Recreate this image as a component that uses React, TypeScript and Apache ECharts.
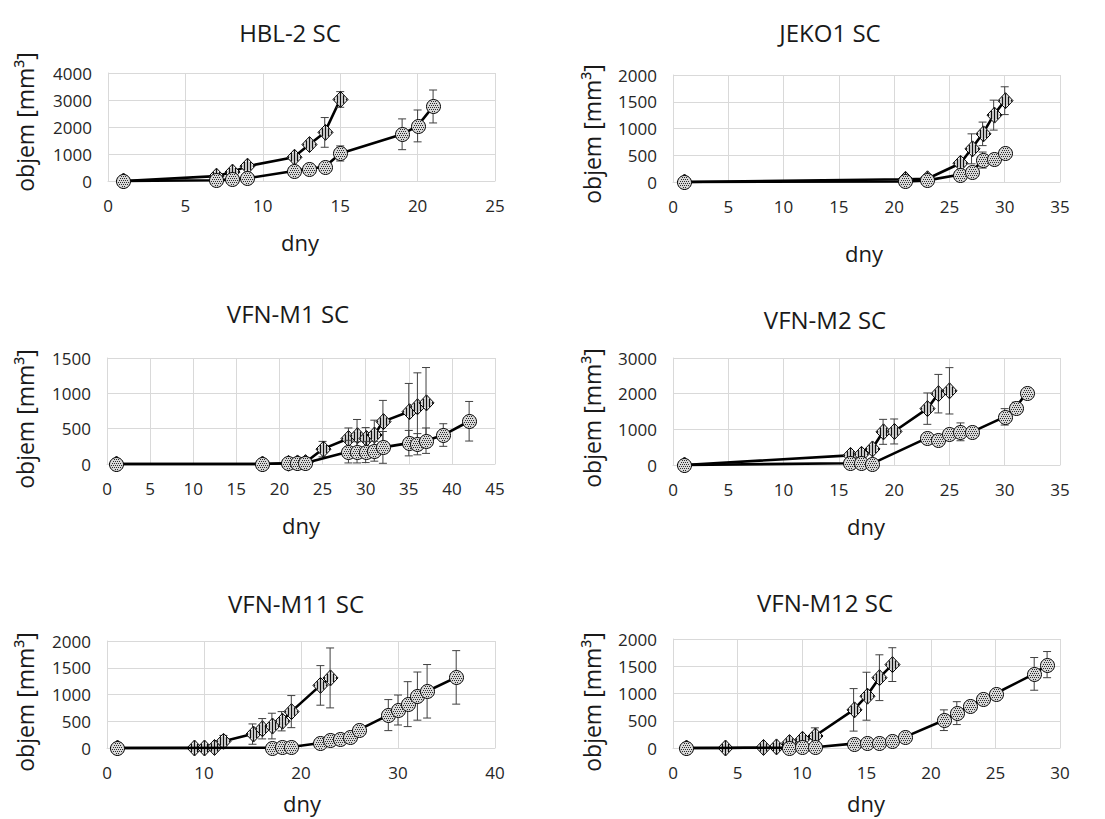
import React, { useEffect, useRef } from 'react';
import * as echarts from 'echarts';

// ---------- DATA ----------
// HBL-2 SC
const hbl2DiamondDays = [1, 7, 8, 9, 12, 13, 14, 15];
const hbl2DiamondVol = [0, 180, 330, 550, 880, 1350, 1800, 3020];
const hbl2DiamondErr = [0, 40, 60, 80, 100, 150, 550, 290];
const hbl2CircleDays = [1, 7, 8, 9, 12, 13, 14, 15, 19, 20, 21];
const hbl2CircleVol = [0, 30, 60, 100, 370, 460, 520, 1020, 1730, 2040, 2760];
const hbl2CircleErr = [0, 20, 30, 40, 60, 60, 70, 280, 570, 590, 610];

// JEKO1 SC
const jekoDiamondDays = [1, 21, 23, 26, 27, 28, 29, 30];
const jekoDiamondVol = [0, 50, 60, 350, 620, 900, 1250, 1520];
const jekoDiamondErr = [0, 10, 15, 60, 280, 220, 280, 260];
const jekoCircleDays = [1, 21, 23, 26, 27, 28, 29, 30];
const jekoCircleVol = [0, 10, 30, 140, 180, 410, 430, 540];
const jekoCircleErr = [0, 5, 10, 30, 40, 150, 60, 60];

// VFN-M1 SC
const m1DiamondDays = [1, 18, 21, 22, 23, 25, 28, 29, 30, 31, 32, 35, 36, 37];
const m1DiamondVol = [0, 0, 10, 15, 20, 210, 360, 400, 360, 410, 600, 740, 810, 865];
const m1DiamondErr = [0, 0, 5, 5, 5, 110, 150, 230, 155, 210, 300, 400, 480, 500];
const m1CircleDays = [1, 18, 21, 22, 23, 28, 29, 30, 31, 32, 35, 36, 37, 39, 42];
const m1CircleVol = [0, 0, 10, 15, 15, 175, 165, 170, 180, 235, 295, 280, 330, 410, 605];
const m1CircleErr = [0, 0, 5, 5, 5, 160, 150, 150, 140, 225, 180, 150, 180, 160, 280];

// VFN-M2 SC
const m2DiamondDays = [1, 16, 17, 18, 19, 20, 23, 24, 25];
const m2DiamondVol = [0, 270, 300, 450, 930, 940, 1580, 2000, 2080];
const m2DiamondErr = [0, 30, 40, 60, 350, 350, 440, 540, 650];
const m2CircleDays = [1, 16, 17, 18, 23, 24, 25, 26, 27, 30, 31, 32];
const m2CircleVol = [0, 50, 55, 40, 760, 700, 870, 930, 920, 1350, 1610, 2030];
const m2CircleErr = [0, 10, 10, 10, 50, 50, 80, 250, 60, 230, 150, 40];

// VFN-M11 SC
const m11DiamondDays = [1, 9, 10, 11, 12, 15, 16, 17, 18, 19, 22, 23];
const m11DiamondVol = [0, 0, 0, 10, 125, 260, 360, 410, 500, 680, 1170, 1310];
const m11DiamondErr = [0, 0, 0, 10, 110, 190, 190, 240, 180, 300, 370, 560];
const m11CircleDays = [1, 17, 18, 19, 22, 23, 24, 25, 26, 29, 30, 31, 32, 33, 36];
const m11CircleVol = [0, 5, 10, 20, 95, 145, 175, 205, 345, 615, 710, 820, 970, 1060, 1320];
const m11CircleErr = [0, 5, 5, 10, 20, 20, 25, 30, 40, 290, 280, 420, 450, 500, 500];

// VFN-M12 SC
const m12DiamondDays = [1, 4, 7, 8, 9, 10, 11, 14, 15, 16, 17];
const m12DiamondVol = [0, 0, 10, 20, 100, 160, 220, 700, 950, 1290, 1530];
const m12DiamondErr = [0, 0, 5, 5, 20, 30, 150, 390, 440, 420, 310];
const m12CircleDays = [1, 9, 10, 11, 14, 15, 16, 17, 18, 21, 22, 23, 24, 25, 28, 29];
const m12CircleVol = [0, 5, 10, 15, 80, 95, 95, 125, 205, 510, 640, 775, 890, 1000, 1360, 1530];
const m12CircleErr = [0, 5, 5, 5, 20, 20, 20, 25, 30, 190, 210, 40, 40, 40, 300, 240];

const titles = ['HBL-2 SC', 'JEKO1 SC', 'VFN-M1 SC', 'VFN-M2 SC', 'VFN-M11 SC', 'VFN-M12 SC'];
const yAxisName = 'objem [mm³]';
const xAxisName = 'dny';

// ---------- LAYOUT ----------
const FONT = "'Open Sans', 'Noto Sans', sans-serif";

const panels = [
  {
    d: [hbl2DiamondDays, hbl2DiamondVol, hbl2DiamondErr], c: [hbl2CircleDays, hbl2CircleVol, hbl2CircleErr],
    xMax: 25, xInt: 5, yMax: 4000, yInt: 1000,
    grid: { left: 108, top: 73, width: 387, height: 108 },
    t: [290, 32], yl: [25, 122], xl: [300, 242],
  },
  {
    d: [jekoDiamondDays, jekoDiamondVol, jekoDiamondErr], c: [jekoCircleDays, jekoCircleVol, jekoCircleErr],
    xMax: 35, xInt: 5, yMax: 2000, yInt: 500,
    grid: { left: 673, top: 75, width: 387, height: 107 },
    t: [830, 32], yl: [592, 134], xl: [864, 253],
  },
  {
    d: [m1DiamondDays, m1DiamondVol, m1DiamondErr], c: [m1CircleDays, m1CircleVol, m1CircleErr],
    xMax: 45, xInt: 5, yMax: 1500, yInt: 500,
    grid: { left: 107, top: 358, width: 388, height: 106 },
    t: [288, 313], yl: [25, 419], xl: [301, 525],
  },
  {
    d: [m2DiamondDays, m2DiamondVol, m2DiamondErr], c: [m2CircleDays, m2CircleVol, m2CircleErr],
    xMax: 35, xInt: 5, yMax: 3000, yInt: 1000,
    grid: { left: 673, top: 358, width: 387, height: 107 },
    t: [825, 319], yl: [592, 418], xl: [866, 526],
  },
  {
    d: [m11DiamondDays, m11DiamondVol, m11DiamondErr], c: [m11CircleDays, m11CircleVol, m11CircleErr],
    xMax: 40, xInt: 10, yMax: 2000, yInt: 500,
    grid: { left: 107, top: 641, width: 388, height: 107 },
    t: [296, 603], yl: [25, 702], xl: [302, 803],
  },
  {
    d: [m12DiamondDays, m12DiamondVol, m12DiamondErr], c: [m12CircleDays, m12CircleVol, m12CircleErr],
    xMax: 30, xInt: 5, yMax: 2000, yInt: 500,
    grid: { left: 673, top: 639, width: 387, height: 109 },
    t: [825, 602], yl: [592, 702], xl: [866, 803],
  },
];

const GRID_COLOR = '#d9d9d9';

function diamondItem(params: any, api: any) {
  const pt = api.coord([api.value(0), api.value(1)]);
  const cx = Math.round(pt[0]), cy = pt[1];
  const w = 7.5, h = 8;
  const base = params.dataIndex * 2;
  const children: any[] = [
    {
      type: 'polygon', z2: base,
      shape: { points: [[cx + 0.5, cy - h], [cx + 0.5 + w, cy], [cx + 0.5, cy + h], [cx + 0.5 - w, cy]] },
      style: { fill: '#ffffff', stroke: '#000', lineWidth: 1 },
    },
  ];
  for (let dx = -6; dx <= 6; dx += 3) {
    const hh = h * (1 - Math.abs(dx + 0.5 - 0.5) / w) - 0.6;
    children.push({
      type: 'line', z2: base + 1,
      shape: { x1: cx + dx + 0.5, y1: cy - hh, x2: cx + dx + 0.5, y2: cy + hh },
      style: { stroke: '#111', lineWidth: 1.5 },
    });
  }
  return { type: 'group', children };
}

function circleItem(params: any, api: any) {
  const pt = api.coord([api.value(0), api.value(1)]);
  const cx = Math.round(pt[0]), cy = Math.round(pt[1]);
  const r = 7;
  const base = params.dataIndex * 2;
  const children: any[] = [
    {
      type: 'circle', z2: base, shape: { cx: cx + 0.5, cy: cy + 0.5, r },
      style: { fill: '#d9d9d9', stroke: '#000', lineWidth: 1 },
    },
  ];
  for (let dy = -5; dy <= 5; dy += 2) {
    const off = ((dy + 5) / 2) % 2 === 0 ? 0 : 1;
    for (let dx = -6 + off; dx <= 6; dx += 2) {
      const ex = dx + 0.5, ey = dy + 0.5;
      if ((ex - 0.5) * (ex - 0.5) + (ey - 0.5) * (ey - 0.5) < 5.6 * 5.6) {
        children.push({
          type: 'rect', z2: base + 1,
          shape: { x: cx + dx, y: cy + dy, width: 1, height: 1 },
          style: { fill: '#2a2a2a' },
        });
      }
    }
  }
  return { type: 'group', children };
}

function errItem(_p: any, api: any) {
  const x = api.value(0), y = api.value(1), e = api.value(2);
  if (!e || e < 30) return { type: 'group', children: [] };
  const top = api.coord([x, y + e]);
  const bot = api.coord([x, Math.max(0, y - e)]);
  const cap = 4;
  const st = { stroke: '#404040', lineWidth: 1 };
  return {
    type: 'group',
    children: [
      { type: 'line', shape: { x1: top[0], y1: top[1], x2: bot[0], y2: bot[1] }, style: st },
      { type: 'line', shape: { x1: top[0] - cap, y1: top[1], x2: top[0] + cap, y2: top[1] }, style: st },
      { type: 'line', shape: { x1: bot[0] - cap, y1: bot[1], x2: bot[0] + cap, y2: bot[1] }, style: st },
    ],
  };
}

function buildOption() {
  const grid: any[] = [];
  const xAxis: any[] = [];
  const yAxis: any[] = [];
  const series: any[] = [];
  const graphic: any[] = [];

  panels.forEach((p, i) => {
    grid.push({ ...p.grid, containLabel: false });
    xAxis.push({
      type: 'value', gridIndex: i, min: 0, max: p.xMax, interval: p.xInt,
      axisLine: { show: true, lineStyle: { color: GRID_COLOR, width: 1 } },
      axisTick: { show: false },
      splitLine: { show: true, lineStyle: { color: GRID_COLOR, width: 1 } },
      axisLabel: { color: '#262626', fontSize: 17, fontFamily: FONT, margin: 16, formatter: (v: number) => String(v) },
    });
    yAxis.push({
      type: 'value', gridIndex: i, min: 0, max: p.yMax, interval: p.yInt,
      axisLine: { show: true, lineStyle: { color: GRID_COLOR, width: 1 } },
      axisTick: { show: false },
      splitLine: { show: true, lineStyle: { color: GRID_COLOR, width: 1 } },
      axisLabel: { color: '#262626', fontSize: 17, fontFamily: FONT, margin: 16, formatter: (v: number) => String(v) },
    });

    const groups = [
      { arr: p.d, marker: diamondItem, name: 'diamond', zb: 2 },
      { arr: p.c, marker: circleItem, name: 'circle', zb: 5 },
    ];
    groups.forEach((g) => {
      const [days, vol, err] = g.arr;
      const pts = days.map((d: number, k: number) => [d, vol[k]]);
      const triples = days.map((d: number, k: number) => [d, vol[k], err[k]]);
      series.push({
        type: 'line', name: g.name, xAxisIndex: i, yAxisIndex: i, data: pts,
        symbol: 'none', clip: false, z: g.zb,
        lineStyle: { color: '#000', width: 2.6 },
        silent: true,
      });
      series.push({
        type: 'custom', xAxisIndex: i, yAxisIndex: i, data: triples,
        renderItem: errItem, encode: { x: 0, y: 1 }, z: g.zb + 1, clip: false, silent: true,
      });
      series.push({
        type: 'custom', xAxisIndex: i, yAxisIndex: i, data: triples,
        renderItem: g.marker, encode: { x: 0, y: 1 }, z: g.zb + 2, clip: false, silent: true,
      });
    });

    graphic.push({
      type: 'text', x: p.t[0], y: p.t[1],
      style: {
        text: titles[i], fill: '#1a1a1a', font: `24px ${FONT}`,
        textAlign: 'center', textVerticalAlign: 'middle', align: 'center', verticalAlign: 'middle',
      },
    });
    graphic.push({
      type: 'text', x: p.yl[0], y: p.yl[1], rotation: Math.PI / 2,
      style: {
        text: yAxisName, fill: '#1a1a1a', font: `23px ${FONT}`,
        textAlign: 'center', textVerticalAlign: 'middle', align: 'center', verticalAlign: 'middle',
      },
    });
    graphic.push({
      type: 'text', x: p.xl[0], y: p.xl[1],
      style: {
        text: xAxisName, fill: '#1a1a1a', font: `22px ${FONT}`,
        textAlign: 'center', textVerticalAlign: 'middle', align: 'center', verticalAlign: 'middle',
      },
    });
  });

  return {
    animation: false,
    backgroundColor: '#ffffff',
    grid, xAxis, yAxis, series, graphic,
  };
}

export default function App() {
  const ref = useRef<HTMLDivElement>(null);
  useEffect(() => {
    if (!ref.current) return;
    const chart = echarts.init(ref.current, undefined, { renderer: 'svg' });
    chart.setOption(buildOption() as any);
    return () => chart.dispose();
  }, []);
  return (
    <div
      ref={ref}
      style={{ position: 'absolute', left: 0, top: 0, width: 1105, height: 819, background: '#fff' }}
    />
  );
}
